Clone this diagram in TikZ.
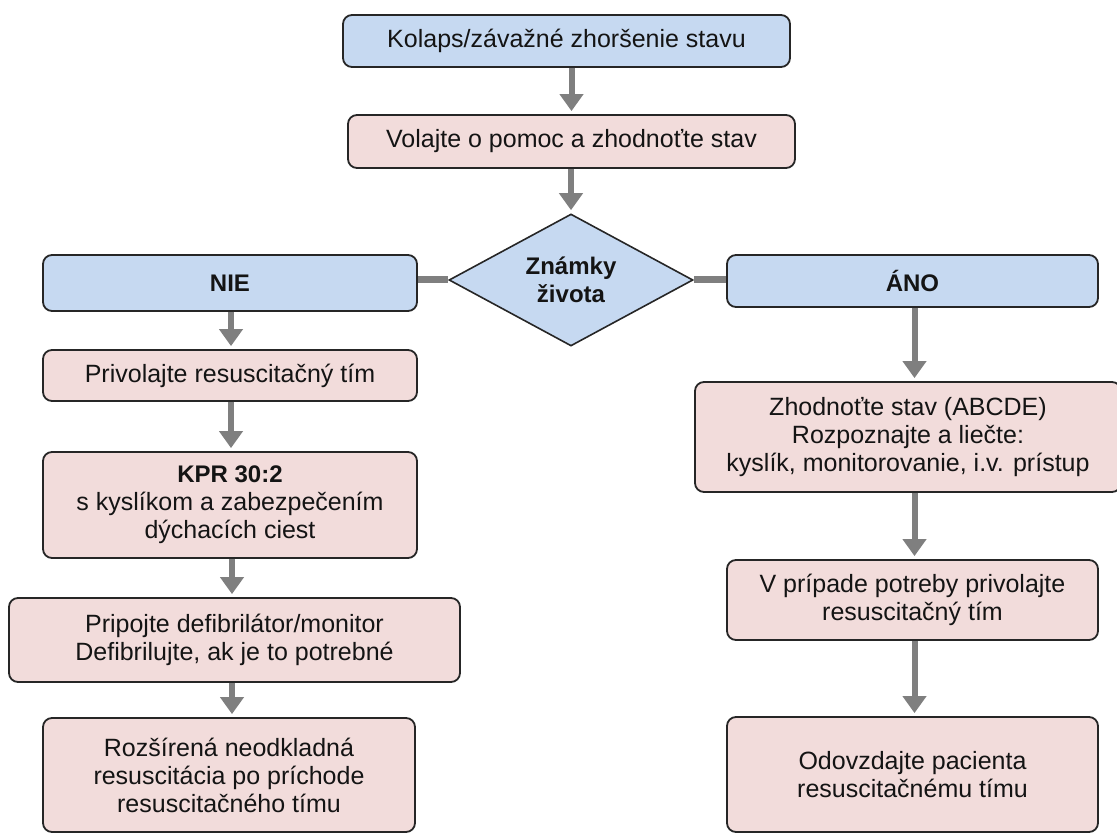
\documentclass[tikz,border=0pt]{standalone}
\usepackage{fontspec}
\setmainfont{Liberation Sans}
\usetikzlibrary{shapes.geometric,arrows.meta}

\definecolor{boxblue}{HTML}{C6D9F1}
\definecolor{boxpink}{HTML}{F2DCDB}
\definecolor{edge}{HTML}{262626}
\definecolor{ink}{HTML}{141414}
\definecolor{flow}{HTML}{7F7F7F}

\tikzset{
  box/.style={draw=edge, line width=1.8pt, rounded corners=9pt,
    align=center, inner sep=0pt, text=ink,
    font=\fontsize{25}{28}\selectfont},
  bluebox/.style={box, fill=boxblue},
  pinkbox/.style={box, fill=boxpink},
  boldtext/.style={font=\bfseries\fontsize{24}{28}\selectfont},
  flowarrow/.style={draw=flow, line width=6pt,
    -{Triangle[width=23pt,length=17pt]}, shorten >=3pt},
  flowline/.style={draw=flow, line width=7pt}
}

\begin{document}
\begin{tikzpicture}[x=1pt,y=-1pt]
\useasboundingbox (0,0) rectangle (1117,834);

% main column
\node[bluebox, minimum width=447pt, minimum height=52pt] (kolaps) at (566.5,41)
  {Kolaps/závažné zhoršenie stavu};
\node[pinkbox, minimum width=447pt, minimum height=53pt] (volajte) at (571.5,141.5)
  {Volajte o pomoc a zhodnoťte stav};
\node[diamond, draw=edge, line width=1.6pt, fill=boxblue, inner sep=0pt,
  minimum width=244pt, minimum height=132pt,
  label={[align=center, text=ink, boldtext]center:Známky\\života}]
  (diam) at (571,280) {};

% left branch
\node[bluebox, boldtext, minimum width=374pt, minimum height=56pt] (nie) at (230,283)
  {NIE};
\node[pinkbox, minimum width=374pt, minimum height=51pt] (privolajte) at (230,375.5)
  {Privolajte resuscitačný tím};
\node[pinkbox, minimum width=374pt, minimum height=106pt] (kpr) at (230,505)
  {{\bfseries\fontsize{24}{28}\selectfont KPR 30:2}\\s kyslíkom a zabezpečením\\dýchacích ciest};
\node[pinkbox, minimum width=451pt, minimum height=84pt] (pripojte) at (234.5,640)
  {Pripojte defibrilátor/monitor\\Defibrilujte, ak je to potrebné};
\node[pinkbox, minimum width=372pt, minimum height=114pt] (rozsirena) at (229,775)
  {Rozšírená neodkladná\\resuscitácia po príchode\\resuscitačného tímu};

% right branch
\node[bluebox, boldtext, minimum width=371pt, minimum height=52pt] (ano) at (912.5,281)
  {ÁNO};
\node[pinkbox, minimum width=426pt, minimum height=110pt] (zhodnot) at (908,437)
  {Zhodnoťte stav (ABCDE)\\Rozpoznajte a liečte:\\kyslík, monitorovanie, i.v. prístup};
\node[pinkbox, minimum width=371pt, minimum height=80pt] (vpripade) at (912.5,600)
  {V prípade potreby privolajte\\resuscitačný tím};
\node[pinkbox, minimum width=371pt, minimum height=115pt] (odovzdajte) at (912.5,774.5)
  {Odovzdajte pacienta\\resuscitačnému tímu};

% connectors
\draw[flowarrow] (kolaps.south -| volajte) -- (volajte.north);
\draw[flowarrow] (volajte.south -| diam) -- (diam.north);
\draw[flowline] (diam.west) -- (diam.west -| nie.east);
\draw[flowline] (diam.east) -- (diam.east -| ano.west);

\draw[flowarrow] ([xshift=1pt]nie.south) -- ([xshift=1pt]privolajte.north);
\draw[flowarrow] ([xshift=1pt]privolajte.south) -- ([xshift=1pt]kpr.north);
\draw[flowarrow] ([xshift=2pt]kpr.south) -- ([xshift=2pt]kpr.south |- pripojte.north);
\draw[flowarrow] ([xshift=2pt]kpr.south |- pripojte.south) -- ([xshift=2pt]kpr.south |- rozsirena.north);

\draw[flowarrow] ([xshift=2pt]ano.south) -- ([xshift=2pt]ano.south |- zhodnot.north);
\draw[flowarrow] ([xshift=2pt]zhodnot.south -| vpripade) -- ([xshift=2pt]vpripade.north);
\draw[flowarrow] ([xshift=2pt]vpripade.south) -- ([xshift=2pt]odovzdajte.north);
\end{tikzpicture}
\end{document}
